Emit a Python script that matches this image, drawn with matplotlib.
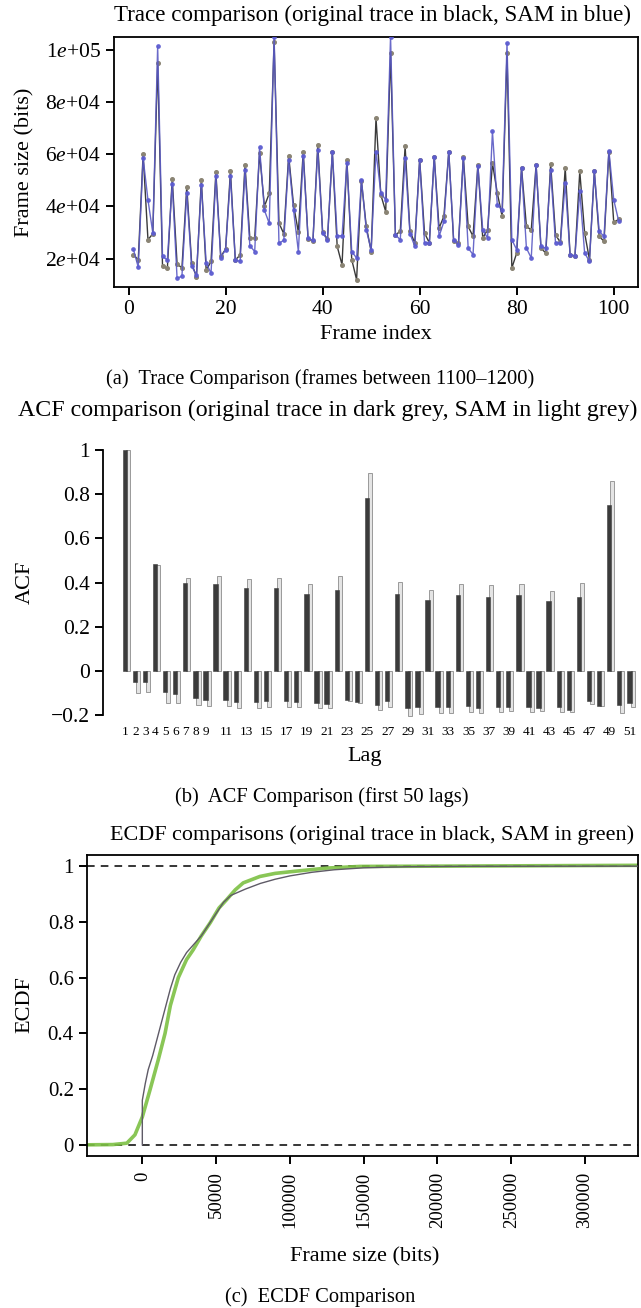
import matplotlib.pyplot as plt
import numpy as np

plt.rcParams['font.family'] = ['Liberation Serif', 'DejaVu Serif']
plt.rcParams['mathtext.fontset'] = 'custom'
plt.rcParams['mathtext.rm'] = 'Liberation Serif'
plt.rcParams['mathtext.it'] = 'Liberation Serif:italic'

W, H = 641, 1308

# (a) trace, frames 1100-1200 shown as index 1..101
frames = np.arange(1, 102)
orig_trace = [21500, 19500, 60000, 27200, 29500, 95000, 17000, 16300, 50600, 18000,
              16400, 47600, 18300, 12900, 50000, 15500, 18900, 53000, 20800, 23600,
              53400, 19500, 21300, 55900, 27800, 27800, 60400, 40000, 45000, 103000,
              33600, 29500, 59400, 40600, 30100, 61000, 27500, 26600, 63600, 30000,
              27500, 60700, 24700, 17600, 57900, 19600, 11900, 49600, 32300, 22700,
              73800, 44400, 38000, 98700, 29100, 30400, 63000, 30400, 26000, 57900,
              29800, 26000, 59100, 31700, 36200, 61000, 26600, 26000, 58900, 32300,
              28500, 56000, 27900, 31000, 56600, 45100, 36200, 98700, 16400, 22100,
              54700, 32300, 31000, 55900, 24000, 22100, 56200, 29100, 26200, 54700,
              21500, 20800, 53400, 29800, 19600, 53400, 28500, 26600, 61000, 33900,
              35000]
sam_trace = [23500, 16700, 58500, 42500, 29800, 101300, 20800, 19500, 48700, 12500,
             13200, 45300, 17000, 13800, 48300, 18300, 14400, 51500, 20400, 23400,
             51500, 19500, 18900, 54000, 24900, 22700, 62700, 38500, 33500, 105000,
             25900, 27000, 57900, 38700, 22700, 59400, 27800, 27000, 61700, 29800,
             27200, 61000, 28700, 28700, 56600, 22700, 20200, 50200, 31000, 23400,
             61000, 45100, 42500, 105000, 29100, 27200, 58500, 29500, 24700, 57900,
             26000, 26000, 59100, 28500, 34200, 61000, 27200, 25300, 58500, 24000,
             21500, 55600, 31000, 27900, 68700, 40600, 38700, 102500, 27200, 23400,
             54700, 24000, 20200, 55900, 24700, 24000, 54000, 26000, 26000, 48900,
             21500, 21100, 45700, 22100, 18900, 53400, 30400, 28500, 61400, 42500,
             34500]
trace_yticks = [20000, 40000, 60000, 80000, 100000]
trace_ylabels = [r'2$\mathit{e}$+04', r'4$\mathit{e}$+04', r'6$\mathit{e}$+04',
                 r'8$\mathit{e}$+04', r'1$\mathit{e}$+05']

# (b) ACF, lag labels 1..51
lags = np.arange(1, 52)
acf_orig = [1.0, -0.052, -0.049, 0.483, -0.096, -0.107, 0.40, -0.121, -0.133, 0.395,
            -0.133, -0.142, 0.373, -0.142, -0.138, 0.377, -0.138, -0.142, 0.346, -0.148,
            -0.151, 0.365, -0.13, -0.141, 0.783, -0.153, -0.136, 0.347, -0.17, -0.166,
            0.32, -0.163, -0.163, 0.344, -0.16, -0.169, 0.336, -0.166, -0.163, 0.343,
            -0.163, -0.17, 0.314, -0.166, -0.178, 0.333, -0.138, -0.16, 0.75, -0.156,
            -0.145]
acf_sam = [1.0, -0.10, -0.096, 0.48, -0.144, -0.148, 0.42, -0.157, -0.16, 0.428,
           -0.16, -0.169, 0.415, -0.169, -0.163, 0.421, -0.166, -0.166, 0.395, -0.17,
           -0.17, 0.428, -0.136, -0.148, 0.896, -0.178, -0.163, 0.401, -0.204, -0.197,
           0.365, -0.193, -0.19, 0.395, -0.185, -0.19, 0.388, -0.185, -0.181, 0.391,
           -0.185, -0.182, 0.362, -0.185, -0.185, 0.398, -0.151, -0.16, 0.86, -0.19,
           -0.166]
lag_ticklabels = [1, 2, 3, 4, 5, 6, 7, 8, 9] + list(range(11, 52, 2))
acf_yticks = [-0.2, 0, 0.2, 0.4, 0.6, 0.8, 1]
acf_ylabels = ['\u22120.2', '0', '0.2', '0.4', '0.6', '0.8', '1']

# (c) ECDF
ecdf_orig_x = [0, 0, 2000, 4000, 7000, 10000, 13000, 16000, 19000, 22000, 26000, 30000,
               35000, 40000, 45000, 50000, 55000, 60000, 70000, 80000, 90000, 100000,
               115000, 130000, 150000, 180000, 220000, 340000]
ecdf_orig_y = [0, 0.16, 0.22, 0.27, 0.32, 0.38, 0.44, 0.50, 0.56, 0.61, 0.655, 0.69,
               0.72, 0.75, 0.79, 0.83, 0.87, 0.895, 0.918, 0.938, 0.953, 0.965,
               0.978, 0.987, 0.994, 0.998, 0.9995, 1.0]
ecdf_sam_x = [-40000, -20000, -10500, -5000, 0, 5200, 10800, 15400, 19000, 24400, 30000,
              34500, 40000, 45900, 52000, 57200, 63000, 68400, 79700, 90000, 102300,
              125000, 147500, 200000, 340000]
ecdf_sam_y = [0, 0.001, 0.006, 0.036, 0.10, 0.197, 0.305, 0.40, 0.50, 0.60, 0.665,
              0.70, 0.75, 0.796, 0.85, 0.88, 0.915, 0.94, 0.963, 0.974, 0.981,
              0.993, 0.999, 1.0, 1.003]
ecdf_xticks = [0, 50000, 100000, 150000, 200000, 250000, 300000]
ecdf_yticks = [0, 0.2, 0.4, 0.6, 0.8, 1]
ecdf_ylabels = ['0', '0.2', '0.4', '0.6', '0.8', '1']


def box(l, t, r, b):
    return [l / W, 1 - b / H, (r - l) / W, (b - t) / H]


def txt(x, y, s, size=15.5, **kw):
    fig.text(x / W, 1 - y / H, s, fontsize=size, ha='center', va='center', **kw)


fig = plt.figure(figsize=(W / 100, H / 100), dpi=100)

# ---- (a) trace comparison
ax1 = fig.add_axes(box(114, 37, 638, 287))
ax1.plot(frames, orig_trace, color='#3a3a3a', lw=1.0, marker='o', ms=2.6,
         mfc='#8a8474', mec='#8a8474', zorder=2)
ax1.plot(frames, sam_trace, color='#5a5ac4', lw=1.0, marker='o', ms=2.4,
         mfc='#5c5cd0', mec='#5c5cd0', alpha=0.9, zorder=3)
ax1.set_xlim(-3, 105)
ax1.set_ylim(9100, 104900)
ax1.set_xticks([0, 20, 40, 60, 80, 100])
ax1.set_yticks(trace_yticks)
ax1.set_yticklabels(trace_ylabels)
ax1.tick_params(labelsize=15.5, length=6, width=1.4, direction='out')
for s in ax1.spines.values():
    s.set_linewidth(1.3)
txt(372, 15, 'Trace comparison (original trace in black, SAM in blue)', size=16.6)
txt(376, 334, 'Frame index', size=16)
txt(25, 162, 'Frame size (bits)', size=16, rotation=90)
txt(320, 379, '(a)  Trace Comparison (frames between 1100\u20131200)', size=14.8)

# ---- (b) ACF comparison
ax2 = fig.add_axes(box(103, 439, 638, 726))
ax2.bar(lags + 0.46, acf_sam, width=0.4, color='#e4e4e4', edgecolor='#9a9a9a',
        linewidth=0.7, zorder=2)
ax2.bar(lags + 0.15, acf_orig, width=0.43, color='#3b3b3b', edgecolor='#3b3b3b',
        linewidth=0.4, zorder=3)
ax2.set_xlim(-1.0, 52.0)
ax2.set_ylim(-0.25, 1.05)
ax2.set_yticks(acf_yticks)
ax2.set_yticklabels(acf_ylabels)
ax2.set_xticks(np.array(lag_ticklabels) + 0.2)
ax2.set_xticklabels([str(v) for v in lag_ticklabels])
ax2.tick_params(axis='x', length=0, labelsize=9.5, pad=0)
ax2.tick_params(axis='y', labelsize=15.5, length=6, width=1.4)
for k in ['top', 'right', 'bottom']:
    ax2.spines[k].set_visible(False)
ax2.spines['left'].set_bounds(-0.2, 1)
ax2.spines['left'].set_linewidth(1.3)
txt(328, 410, 'ACF comparison (original trace in dark grey, SAM in light grey)', size=17.2)
txt(365, 757, 'Lag', size=16)
txt(25, 582, 'ACF', size=16, rotation=90)
txt(322, 797, '(b)  ACF Comparison (first 50 lags)', size=14.8)

# ---- (c) ECDF comparison
ax3 = fig.add_axes(box(87, 855, 638, 1156))
ax3.axhline(0, color='black', lw=1.1, ls=(0, (5, 4)), zorder=1)
ax3.axhline(1, color='black', lw=1.1, ls=(0, (5, 4)), zorder=1)
ax3.plot(ecdf_sam_x, ecdf_sam_y, color='#7cc043', lw=2.6, alpha=0.9, zorder=2)
ax3.plot(ecdf_orig_x, ecdf_orig_y, color='#5e5a66', lw=1.0, zorder=3)
ax3.set_xlim(-37500, 336000)
ax3.set_ylim(-0.04, 1.04)
ax3.set_xticks(ecdf_xticks)
ax3.set_xticklabels([str(v) for v in ecdf_xticks], rotation=90)
ax3.set_yticks(ecdf_yticks)
ax3.set_yticklabels(ecdf_ylabels)
ax3.tick_params(axis='x', labelsize=13.5, length=6, width=1.4, pad=5)
ax3.tick_params(axis='y', labelsize=15, length=6, width=1.4)
for s in ax3.spines.values():
    s.set_linewidth(1.3)
txt(372, 835, 'ECDF comparisons (original trace in black, SAM in green)', size=15.9)
txt(365, 1257, 'Frame size (bits)', size=16)
txt(25, 1005, 'ECDF', size=16, rotation=90)
txt(320, 1297, '(c)  ECDF Comparison', size=14.8)

fig.savefig('out.png', dpi=100)
plt.close(fig)
